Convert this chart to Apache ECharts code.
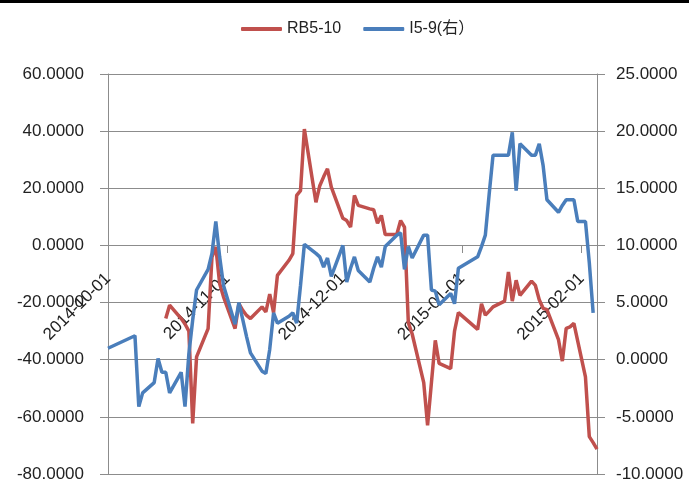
<!DOCTYPE html>
<html>
<head>
<meta charset="utf-8">
<script src="https://cdn.jsdelivr.net/npm/echarts@6/dist/echarts.min.js"></script>
<style>
  html, body { margin: 0; padding: 0; background: #fff; }
  #chart { width: 689px; height: 486px; }
</style>
</head>
<body>
<div id="chart"></div>
<script>
  // RB5-10 (左轴)
  const redDates = ['2014-10-16','2014-10-17','2014-10-20','2014-10-21','2014-10-22','2014-10-23','2014-10-24','2014-10-27','2014-10-28','2014-10-29','2014-10-30','2014-10-31',
    '2014-11-03','2014-11-04','2014-11-05','2014-11-06','2014-11-07','2014-11-10','2014-11-11','2014-11-12','2014-11-13','2014-11-14','2014-11-17','2014-11-18','2014-11-19','2014-11-20','2014-11-21','2014-11-24','2014-11-25','2014-11-26','2014-11-27','2014-11-28',
    '2014-12-01','2014-12-02','2014-12-03','2014-12-04','2014-12-05','2014-12-08','2014-12-09','2014-12-10','2014-12-11','2014-12-12','2014-12-15','2014-12-16','2014-12-17','2014-12-18','2014-12-19','2014-12-22','2014-12-23','2014-12-24','2014-12-25','2014-12-26','2014-12-29','2014-12-30','2014-12-31',
    '2015-01-05','2015-01-06','2015-01-07','2015-01-08','2015-01-09','2015-01-12','2015-01-13','2015-01-14','2015-01-15','2015-01-16','2015-01-19','2015-01-20','2015-01-21','2015-01-22','2015-01-23','2015-01-26','2015-01-27','2015-01-28','2015-01-29','2015-01-30',
    '2015-02-02','2015-02-03','2015-02-04','2015-02-05'];
  const redValues = [-25.6,-20.9,-25.6,-27.5,-30,-62.3,-39,-29.1,-4.1,-0.5,-13.4,-18,
    -29.1,-20.4,-22.7,-24.5,-25.6,-21.5,-23.3,-17,-23.5,-10.5,-5.2,-2.9,17.5,19.2,40.7,15.1,20.9,24,26.8,20.4,
    9.5,8.7,6.4,17.5,14.0,12.8,12.5,7.8,10.5,3.8,3.8,8.7,6.4,-27,-31,-48,-63,-48,-33.2,-41.3,-43.1,-30,-23.5,
    -29.4,-20.4,-24.4,-23,-21.5,-19.5,-9.3,-19.5,-12.2,-17.5,-12.5,-14,-19,-22,-22.5,-33,-40.5,-29,-28.5,-27.3,
    -46,-66.9,-69,-71.3];

  // I5-9 (右轴)
  const blueDates = ['2014-10-01','2014-10-08','2014-10-09','2014-10-10','2014-10-13','2014-10-14','2014-10-15','2014-10-16','2014-10-17','2014-10-20','2014-10-21','2014-10-22','2014-10-23','2014-10-24','2014-10-27','2014-10-28','2014-10-29','2014-10-30','2014-10-31',
    '2014-11-03','2014-11-04','2014-11-05','2014-11-06','2014-11-07','2014-11-10','2014-11-11','2014-11-12','2014-11-13','2014-11-14','2014-11-17','2014-11-18','2014-11-19','2014-11-20','2014-11-21','2014-11-24','2014-11-25','2014-11-26','2014-11-27','2014-11-28',
    '2014-12-01','2014-12-02','2014-12-03','2014-12-04','2014-12-05','2014-12-08','2014-12-09','2014-12-10','2014-12-11','2014-12-12','2014-12-15','2014-12-16','2014-12-17','2014-12-18','2014-12-19','2014-12-22','2014-12-23','2014-12-24','2014-12-25','2014-12-26','2014-12-29','2014-12-30','2014-12-31',
    '2015-01-05','2015-01-06','2015-01-07','2015-01-08','2015-01-09','2015-01-12','2015-01-13','2015-01-14','2015-01-15','2015-01-16','2015-01-19','2015-01-20','2015-01-21','2015-01-22','2015-01-23','2015-01-26','2015-01-27','2015-01-28','2015-01-29','2015-01-30','2015-01-31',
    '2015-02-02','2015-02-03','2015-02-04'];
  const blueValues = [1.0,2.1,-4.1,-2.9,-2.0,0.1,-1.1,-1.1,-2.9,-1.1,-4.1,0.5,3.5,6.1,7.9,9.3,12.1,9.0,6.5,
    3.1,5.0,3.5,2.0,0.6,-1.0,-1.2,0.9,4.1,3.2,3.8,4.1,3.2,6.5,10.1,9.3,9.0,8.1,8.9,7.3,
    10.0,6.8,8.0,9.0,7.8,6.8,8.0,9.0,8.1,9.9,10.9,11.1,7.9,9.9,8.9,10.9,10.9,6.1,6.0,4.8,5.8,4.9,8.0,
    9.0,9.9,10.9,14.5,17.9,17.9,17.9,19.9,14.8,18.9,17.9,17.9,18.9,17.0,14.0,12.9,13.5,14.0,14.0,14.0,12.1,
    12.1,8.5,4.1];

  const monthTicks = ['2014-10-01','2014-11-01','2014-12-01','2015-01-01','2015-02-01'];
  const leftTicks = [-80, 60, 20];   // min, max, interval
  const rightTicks = [-10, 25, 5];

  const toTime = s => { const p = s.split('-'); return new Date(+p[0], +p[1] - 1, +p[2]).getTime(); };
  const pad = n => (n < 10 ? '0' : '') + n;
  const fmtDate = v => { const d = new Date(v); return d.getFullYear() + '-' + pad(d.getMonth() + 1) + '-' + pad(d.getDate()); };

  const font = 'Liberation Sans, Arial, Noto Sans CJK SC, sans-serif';
  const gridColor = '#8c8c8c';

  const chart = echarts.init(document.getElementById('chart'));
  chart.setOption({
    animation: false,
    textStyle: { fontFamily: font },
    graphic: [{ type: 'rect', shape: { x: 0, y: 0, width: 689, height: 3 }, style: { fill: '#000' } }],
    legend: {
      top: 16,
      left: 236,
      itemWidth: 41,
      itemHeight: 4,
      itemGap: 22,
      icon: 'roundRect',
      textStyle: { fontSize: 16, color: '#222', fontFamily: font },
      data: ['RB5-10', 'I5-9(右）']
    },
    grid: { left: 108, right: 92, top: 74, bottom: 12, containLabel: false, outerBoundsMode: 'none' },
    xAxis: {
      // 日期用时间戳放在数值轴上, 刻度只放每月1号; 轴整体上移到左轴0的位置
      type: 'value',
      min: toTime('2014-10-01'),
      max: toTime('2015-02-05'),
      offset: -229,
      axisLine: { onZero: false, lineStyle: { color: gridColor } },
      axisTick: { show: true, length: 8, customValues: monthTicks.map(toTime), lineStyle: { color: gridColor } },
      axisLabel: {
        rotate: 45,
        margin: 31,
        fontSize: 17,
        color: '#222',
        customValues: monthTicks.map(toTime),
        formatter: v => fmtDate(v)
      },
      splitLine: { show: false }
    },
    yAxis: [{
      type: 'value',
      min: leftTicks[0], max: leftTicks[1], interval: leftTicks[2],
      axisLine: { show: true, lineStyle: { color: gridColor } },
      axisTick: { show: true, length: 8, lineStyle: { color: gridColor } },
      axisLabel: { fontSize: 17, color: '#222', margin: 24, formatter: v => v.toFixed(4) },
      splitLine: { lineStyle: { color: gridColor, width: 1 } }
    }, {
      type: 'value',
      position: 'right',
      min: rightTicks[0], max: rightTicks[1], interval: rightTicks[2],
      axisLine: { show: true, lineStyle: { color: gridColor } },
      axisTick: { show: true, length: 8, lineStyle: { color: gridColor } },
      axisLabel: { fontSize: 17, color: '#222', margin: 19, formatter: v => v.toFixed(4) },
      splitLine: { show: false }
    }],
    series: [{
      name: 'RB5-10',
      type: 'line',
      yAxisIndex: 0,
      showSymbol: false,
      color: '#C0504D',
      lineStyle: { width: 3.5, color: '#C0504D' },
      data: redDates.map((d, i) => [toTime(d), redValues[i]])
    }, {
      name: 'I5-9(右）',
      type: 'line',
      yAxisIndex: 1,
      showSymbol: false,
      color: '#4A7EBB',
      lineStyle: { width: 3.5, color: '#4A7EBB' },
      data: blueDates.map((d, i) => [toTime(d), blueValues[i]])
    }]
  });
</script>
</body>
</html>
